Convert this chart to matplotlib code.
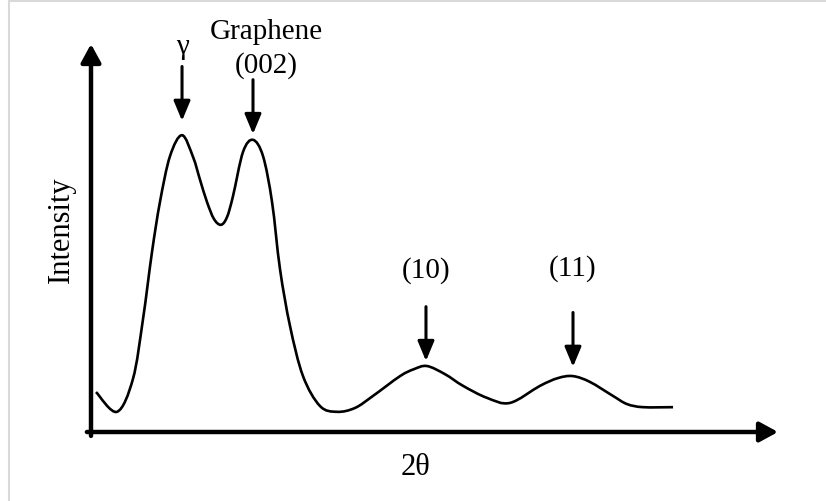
import numpy as np
import matplotlib
matplotlib.use("Agg")
import matplotlib.pyplot as plt
from matplotlib.patches import Rectangle, PathPatch
from matplotlib.path import Path

plt.rcParams['font.family'] = ['Liberation Serif', 'DejaVu Serif']

# XRD pattern (arbitrary units on both axes)
two_theta = [0.73, 3.78, 6.11, 7.57, 8.88, 10.04, 11.50, 13.25,
             14.85, 15.87, 16.88, 17.90, 18.92, 19.80, 20.67, 22.13, 23.58, 25.04,
             26.35, 27.51, 28.97, 30.86, 33.33, 35.81, 38.43, 41.05, 44.98, 47.02,
             48.91, 51.53, 54.15, 57.64, 60.99, 65.36, 67.98, 70.16, 72.63, 75.98,
             78.02, 80.35, 84.72]
intensity = [10.3, 5.2, 13.7, 29.1, 46.4, 59.3, 71.1, 76.5,
             70.9, 65.0, 59.3, 54.9, 53.4, 55.4, 60.8, 72.2, 75.3, 71.1,
             59.3, 42.0, 27.3, 14.4, 6.7, 5.2, 6.2, 9.3, 14.4, 16.2,
             17.0, 14.9, 11.9, 8.8, 7.5, 11.9, 13.9, 14.4, 12.9, 9.3,
             7.2, 6.4, 6.4]

# peak markers
peak_pos = [13.25, 23.58, 48.76, 70.16]
peak_tip = [80.2, 76.8, 18.3, 16.8]
peak_labels = ['\u03b3', 'Graphene', '(10)', '(11)']
label_y = [99.5, 103.4, 41.8, 42.5]


def smooth_path(x, y):
    # Catmull-Rom through the points, written as cubic Bezier segments
    p = np.column_stack([x, y])
    p = np.vstack([p[0], p, p[-1]])
    verts = [p[1]]
    codes = [Path.MOVETO]
    for i in range(1, len(p) - 2):
        c1 = p[i] + (p[i + 1] - p[i - 1]) / 6
        c2 = p[i + 1] - (p[i + 2] - p[i]) / 6
        verts += [c1, c2, p[i + 1]]
        codes += [Path.CURVE4] * 3
    return Path(verts, codes)


fig = plt.figure(figsize=(8.26, 5.02), dpi=100)
fig.patches.append(Rectangle((9 / 826, -0.1), 1.2, 1.1 - 1.5 / 502,
                             transform=fig.transFigure, fill=False,
                             edgecolor='#d9d9d9', lw=1.5))

ax = fig.add_axes([91 / 826, 69 / 502, 687 / 826, 388 / 502])
ax.set_xlim(0, 100)
ax.set_ylim(0, 100)
ax.axis('off')

ax.add_patch(PathPatch(smooth_path(two_theta, intensity), fill=False,
                       edgecolor='black', lw=1.9, capstyle='butt'))

# axes with arrow heads
axis_style = dict(arrowstyle='-|>,head_length=0.55,head_width=0.3', lw=3.2,
                  color='black', shrinkA=0, shrinkB=0, mutation_scale=20)
ax.annotate('', xy=(1, 0), xytext=(-0.006, 0), xycoords='axes fraction',
            arrowprops=axis_style, annotation_clip=False)
ax.annotate('', xy=(0, 1), xytext=(0, -0.01), xycoords='axes fraction',
            arrowprops=axis_style, annotation_clip=False)

peak_style = dict(arrowstyle='-|>,head_length=0.6,head_width=0.25', lw=2.2,
                  color='black', shrinkA=0, shrinkB=0, mutation_scale=20)
for x, tip, lab, ly in zip(peak_pos, peak_tip, peak_labels, label_y):
    ax.annotate('', xy=(x, tip), xytext=(x, tip + 14), arrowprops=peak_style,
                annotation_clip=False)
    if lab == 'Graphene':
        x = x + 1.9
        ax.text(x, ly - 8.8, '(002)', ha='center', va='center', fontsize=21,
                clip_on=False)
    ax.text(x, ly, lab, ha='center', va='center', fontsize=21, clip_on=False)

fig.text(61 / 826, 1 - 230 / 502, 'Intensity', rotation=90, ha='center',
         va='center', fontsize=22)
fig.text(415 / 826, 1 - 468 / 502, '2\u03b8', ha='center', va='center',
         fontsize=22)

fig.savefig('out.png', dpi=100)
